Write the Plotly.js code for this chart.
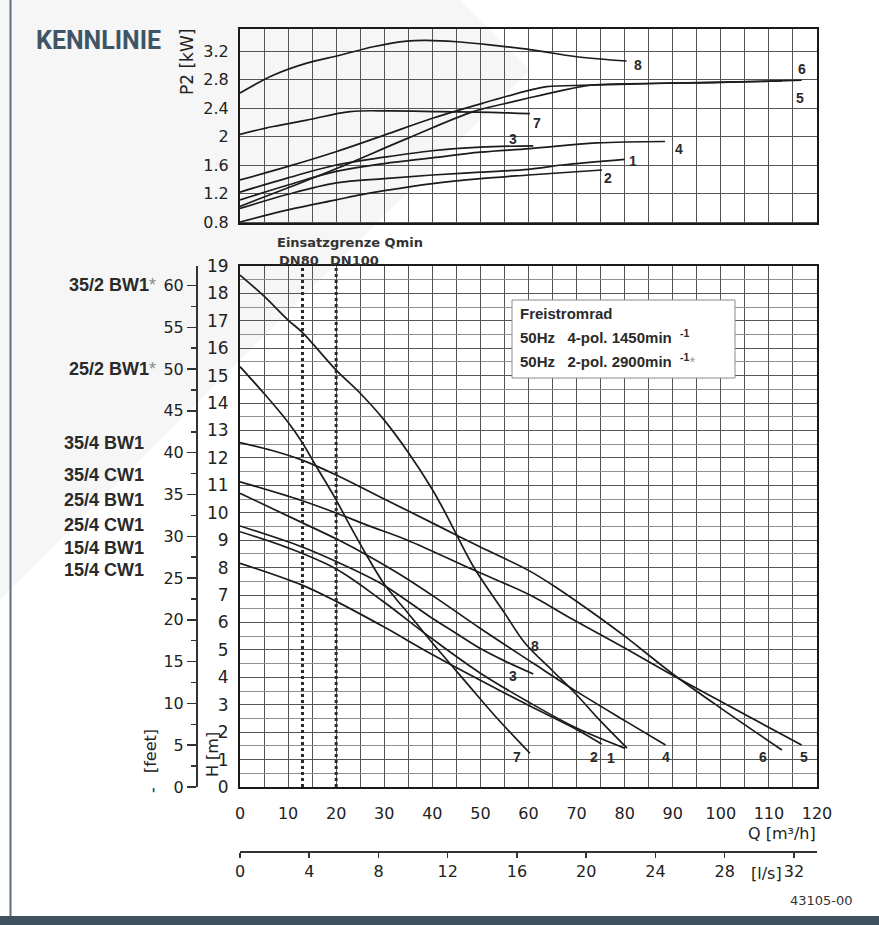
<!DOCTYPE html>
<html>
<head>
<meta charset="utf-8">
<script src="https://cdn.plot.ly/plotly-3.0.1.min.js"></script>
<style>html,body{margin:0;padding:0;background:#fff;}#chart{width:879px;height:925px;}</style>
</head>
<body>
<div id="chart"></div>
<script>
// ---------------- DATA ----------------
// Axis ticks
const qTicks    = [0,10,20,30,40,50,60,70,80,90,100,110,120];      // Q [m3/h]
const lsTicks   = [0,4,8,12,16,20,24,28,32];                        // Q [l/s]
const hTicks    = [0,1,2,3,4,5,6,7,8,9,10,11,12,13,14,15,16,17,18,19]; // H [m]
const feetTicks = [0,5,10,15,20,25,30,35,40,45,50,55,60];           // H [feet]
const p2Ticks   = [0.8,1.2,1.6,2,2.4,2.8,3.2];                      // P2 [kW]

// Pump types (left labels) and curve numbers
const pumpNames = ['35/2 BW1', '25/2 BW1', '35/4 BW1', '35/4 CW1', '25/4 BW1', '25/4 CW1', '15/4 BW1', '15/4 CW1'];
const pumpCurve = ['8', '7', '6', '5', '4', '3', '1', '2'];

// Qmin limits
const qminQ      = [13, 20];
const qminLabels = ['DN80', 'DN100'];

// Head curves H(Q)
const hq1 = [0, 10, 20, 29.5, 40, 50, 60, 70, 80.1];
const hh1 = [9.31, 8.72, 7.95, 6.8, 5.4, 4.15, 3.1, 2.15, 1.41];
const hq2 = [0, 12.8, 20.1, 29.8, 39.5, 48.5, 60.3, 70, 75.2];
const hh2 = [8.16, 7.37, 6.76, 5.85, 4.88, 4.03, 2.95, 2.1, 1.57];
const hq3 = [0, 12.8, 20, 29.8, 39.5, 45, 50, 55, 61];
const hh3 = [9.52, 8.76, 8.22, 7.37, 6.21, 5.6, 5.05, 4.6, 4.12];
const hq4 = [0, 12.8, 20, 27, 33.3, 40.9, 50, 61, 69.3, 80, 88.5];
const hh4 = [10.71, 9.65, 9.05, 8.4, 7.75, 6.88, 5.78, 4.51, 3.56, 2.42, 1.53];
const hq5 = [0, 12.8, 19.9, 26.4, 34.7, 48.5, 60.3, 68.3, 80.1, 89.8, 100.2, 116.8];
const hh5 = [11.13, 10.45, 10.0, 9.55, 9.01, 7.92, 7.0, 6.2, 5.06, 4.09, 3.1, 1.53];
const hq6 = [0, 6.5, 12.8, 20, 30, 40.9, 50, 60, 66, 73, 80, 89.8, 100.2, 112.7];
const hh6 = [12.56, 12.28, 11.93, 11.38, 10.5, 9.55, 8.75, 7.9, 7.25, 6.4, 5.5, 4.15, 2.85, 1.35];
const hq7 = [0, 5, 10, 12.8, 16, 19.9, 22.5, 26, 29.8, 32.5, 35, 39.5, 47.2, 53, 60.3];
const hh7 = [15.33, 14.35, 13.3, 12.6, 11.65, 10.5, 9.65, 8.55, 7.45, 6.85, 6.33, 5.36, 3.78, 2.6, 1.23];
const hq8 = [0, 5, 10, 13, 20, 25, 30, 35, 40, 43, 48.5, 55, 59.3, 65, 69.7, 75, 80.5];
const hh8 = [18.67, 17.9, 17.03, 16.57, 15.2, 14.36, 13.38, 12.2, 10.85, 9.9, 8.05, 6.35, 5.24, 4.24, 3.42, 2.4, 1.42];

// Power curves P2(Q)
const pq1 = [0, 10, 20, 30, 40, 50, 60, 67, 80];
const pp1 = [0.99, 1.19, 1.35, 1.41, 1.46, 1.50, 1.54, 1.60, 1.68];
const pq2 = [0, 10, 20, 25, 30, 40, 50, 60, 75.3];
const pp2 = [0.80, 0.97, 1.11, 1.18, 1.24, 1.34, 1.41, 1.46, 1.53];
const pq3 = [0, 10, 20, 30, 40, 50, 61];
const pp3 = [1.22, 1.42, 1.60, 1.71, 1.80, 1.85, 1.87];
const pq4 = [0, 10, 20, 30, 40, 50, 60.3, 74.2, 88.4];
const pp4 = [1.11, 1.32, 1.51, 1.62, 1.70, 1.78, 1.83, 1.91, 1.93];
const pq5 = [0, 10, 20.1, 34.7, 48.5, 55, 60, 65.9, 72.8, 80, 100, 116.8];
const pp5 = [1.02, 1.28, 1.55, 1.97, 2.35, 2.46, 2.54, 2.63, 2.72, 2.74, 2.76, 2.79];
const pq6 = [0, 10, 20.1, 30, 40.2, 50.6, 60.3, 63.8, 72.8, 90, 112.7];
const pp6 = [1.39, 1.58, 1.79, 2.02, 2.26, 2.47, 2.65, 2.70, 2.72, 2.75, 2.78];
const pq7 = [0, 6.9, 13.9, 22.9, 31.2, 41.6, 52, 60.3];
const pp7 = [2.03, 2.14, 2.23, 2.35, 2.36, 2.35, 2.34, 2.32];
const pq8 = [0, 6.9, 13.9, 20.8, 27.7, 34.7, 38.8, 45.1, 52.7, 60.3, 70, 80.4];
const pp8 = [2.61, 2.86, 3.03, 3.14, 3.26, 3.34, 3.35, 3.33, 3.28, 3.22, 3.12, 3.06];

// ---------------- HELPERS ----------------
const W = 879, H = 925;
const PX = x => x / W;
const PY = y => 1 - y / H;
const DV = 'DejaVu Sans, sans-serif';
const AR = 'Liberation Sans, Arial, sans-serif';
const INK = '#222';

const headCurves = [
  {id:'1', q:hq1, h:hh1, at:-1, dx:-14, dy:-10},
  {id:'2', q:hq2, h:hh2, at:-1, dx:-8,  dy:-13},
  {id:'3', q:hq3, h:hh3, at:-1, dx:-20, dy:-2},
  {id:'4', q:hq4, h:hh4, at:-1, dx:0,   dy:-12},
  {id:'5', q:hq5, h:hh5, at:-1, dx:2,   dy:-12},
  {id:'6', q:hq6, h:hh6, at:-1, dx:-19, dy:-7},
  {id:'7', q:hq7, h:hh7, at:-1, dx:-13, dy:-4},
  {id:'8', q:hq8, h:hh8, at:12, dx:10,  dy:-3}
];
const powerCurves = [
  {id:'1', q:pq1, p:pp1, dx:8,   dy:-2},
  {id:'2', q:pq2, p:pp2, dx:6,   dy:-8},
  {id:'3', q:pq3, p:pp3, dx:-20, dy:7},
  {id:'4', q:pq4, p:pp4, dx:14,  dy:-7},
  {id:'5', q:pq5, p:pp5, dx:-2,  dy:-18},
  {id:'6', q:pq6, p:pp6, dx:20,  dy:12},
  {id:'7', q:pq7, p:pp7, dx:7,   dy:-9},
  {id:'8', q:pq8, p:pp8, dx:11,  dy:-4}
];

const lineStyle = {color:'#1c1c1c', width:1.7, shape:'spline', smoothing:1.0};
const traces = [];
headCurves.forEach(c => traces.push({x:c.q, y:c.h, xaxis:'x', yaxis:'y', mode:'lines', line:lineStyle, hoverinfo:'skip', showlegend:false}));
powerCurves.forEach(c => traces.push({x:c.q, y:c.p, xaxis:'x2', yaxis:'y2', mode:'lines', line:lineStyle, hoverinfo:'skip', showlegend:false}));
// carriers for the secondary axes (l/s and feet)
traces.push({x:[lsTicks[0]], y:[hTicks[0]], xaxis:'x3', yaxis:'y', mode:'markers', marker:{opacity:0}, hoverinfo:'skip', showlegend:false});
traces.push({x:[qTicks[0]], y:[feetTicks[0]], xaxis:'x', yaxis:'y3', mode:'markers', marker:{opacity:0}, hoverinfo:'skip', showlegend:false});

const lsPerM3h = 1/3.6, feetPerM = 1/0.3048;
const qMax = qTicks[qTicks.length-1];
const hMax = hTicks[hTicks.length-1];

const frame = {showline:true, mirror:true, linecolor:'#1a1a1a', linewidth:2, zeroline:false, fixedrange:true};
const gridX = {showgrid:true, gridcolor:'#555', gridwidth:1,
  minor:{dtick:(qTicks[1]-qTicks[0])/2, showgrid:true, gridcolor:'#555', gridwidth:1}};

const layout = {
  width:W, height:H, margin:{l:0, r:0, t:0, b:0},
  paper_bgcolor:'#ffffff', plot_bgcolor:'rgba(0,0,0,0)', showlegend:false,
  xaxis: Object.assign({domain:[PX(240), PX(817)], range:[qTicks[0], qMax], anchor:'y',
    tick0:qTicks[0], dtick:qTicks[1]-qTicks[0], ticks:'', ticklabelstandoff:11,
    tickfont:{family:DV, size:16, color:INK}}, gridX, frame),
  yaxis: Object.assign({domain:[PY(787), PY(266)], range:[hTicks[0], hMax], anchor:'x',
    tick0:hTicks[0], dtick:hTicks[1]-hTicks[0], ticks:'', ticklabelstandoff:6,
    tickfont:{family:DV, size:17, color:INK},
    showgrid:true, gridcolor:'#555', gridwidth:1,
    minor:{dtick:(hTicks[1]-hTicks[0])/2, showgrid:true, gridcolor:'#909090', gridwidth:1}}, frame),
  xaxis2: Object.assign({domain:[PX(240), PX(817)], range:[qTicks[0], qMax], anchor:'y2',
    tick0:qTicks[0], dtick:qTicks[1]-qTicks[0], ticks:'', showticklabels:false}, gridX, frame),
  yaxis2: Object.assign({domain:[PY(223.3), PY(29)], range:[0.782, 3.509], anchor:'x2',
    tick0:p2Ticks[0], dtick:p2Ticks[1]-p2Ticks[0], ticks:'', ticklabelstandoff:6,
    tickfont:{family:DV, size:16, color:INK},
    showgrid:true, gridcolor:'#555', gridwidth:1}, frame),
  xaxis3: {overlaying:'x', anchor:'free', position:PY(852), side:'bottom',
    range:[0, qMax*lsPerM3h], tick0:lsTicks[0], dtick:lsTicks[1]-lsTicks[0],
    ticks:'outside', ticklen:5, tickwidth:1.5, tickcolor:'#333',
    showline:true, linecolor:'#333', linewidth:2, showgrid:false, zeroline:false, fixedrange:true,
    tickfont:{family:DV, size:16, color:INK}},
  yaxis3: {overlaying:'y', anchor:'free', position:PX(196), side:'left',
    range:[0, hMax*feetPerM], tick0:feetTicks[0], dtick:feetTicks[1]-feetTicks[0],
    ticks:'outside', ticklen:9, tickwidth:1.5, tickcolor:'#333',
    minor:{dtick:(feetTicks[1]-feetTicks[0])/2, ticks:'outside', ticklen:5, tickwidth:1.5, tickcolor:'#333'},
    showline:true, linecolor:'#333', linewidth:1.5, showgrid:false, zeroline:false, fixedrange:true,
    tickfont:{family:DV, size:16, color:INK}},
  shapes: [],
  annotations: []
};

// background decorations
const wm = [[0,0],[460,0],[530,70],[0,600]];
layout.shapes.push({type:'path', xref:'paper', yref:'paper', layer:'below',
  path:'M ' + wm.map(p => PX(p[0]) + ',' + PY(p[1])).join(' L ') + ' Z',
  fillcolor:'#f6f6f6', line:{width:0}});
layout.shapes.push({type:'line', xref:'paper', yref:'paper', layer:'below',
  x0:PX(10.5), x1:PX(10.5), y0:PY(0), y1:PY(916), line:{color:'#5d6f7e', width:2}});
layout.shapes.push({type:'rect', xref:'paper', yref:'paper', layer:'below',
  x0:0, x1:1, y0:PY(925), y1:PY(916), fillcolor:'#3e5262', line:{width:0}});

// Qmin dotted limits
qminQ.forEach(q => layout.shapes.push({type:'line', xref:'x', yref:'y', x0:q, x1:q, y0:hTicks[0], y1:hMax,
  line:{color:'#2a2a2a', width:3, dash:'3px,3px'}}));

// legend box
layout.shapes.push({type:'rect', xref:'paper', yref:'paper', layer:'above',
  x0:PX(512), x1:PX(735), y0:PY(378), y1:PY(300), fillcolor:'#ffffff', line:{color:'#8c8c8c', width:1}});

function ann(text, x, y, opts) {
  layout.annotations.push(Object.assign({text:text, xref:'paper', yref:'paper', x:PX(x), y:PY(y),
    showarrow:false, xanchor:'center', yanchor:'middle', font:{family:DV, size:16, color:INK}}, opts || {}));
}

ann('<b>KENNLINIE</b>', 34, 40, {xanchor:'left', font:{family:'Roboto, sans-serif', size:25, color:'#3e5566'}});
ann('P2 [kW]', 187, 62, {textangle:-90, font:{family:DV, size:17, color:INK}});
ann('<b>Einsatzgrenze Qmin</b>', 350, 242, {font:{family:DV, size:13, color:'#333'}});
ann('<b>' + qminLabels[0] + '</b>', 299, 260, {font:{family:DV, size:13, color:'#333'}});
ann('<b>' + qminLabels[1] + '</b>', 354, 260, {font:{family:DV, size:13, color:'#333'}});

// pump type labels
const star = "<span style='color:#8a8a8a'>*</span>";
ann('<b>' + pumpNames[0] + '</b>' + star, 158, 285, {xanchor:'right', font:{family:AR, size:18, color:'#2a2a2a'}});
ann('<b>' + pumpNames[1] + '</b>' + star, 158, 369, {xanchor:'right', font:{family:AR, size:18, color:'#2a2a2a'}});
const leftY = [443, 475, 500, 525, 548, 570];
pumpNames.slice(2).forEach((n, i) => ann('<b>' + n + '</b>', 62, leftY[i], {xanchor:'left', font:{family:AR, size:18, color:'#2a2a2a'}}));

ann('[feet]', 150, 751, {textangle:-90, font:{family:DV, size:16, color:INK}});
ann('-', 152, 790, {textangle:-90, font:{family:DV, size:16, color:INK}});
ann('H [m]', 212, 755, {textangle:-90, font:{family:DV, size:16, color:INK}});
ann('Q [m³/h]', 818, 833, {xanchor:'right', font:{family:DV, size:16, color:INK}});
ann('[l/s]', 766, 873, {font:{family:DV, size:16, color:INK}});
ann('43105-00', 855, 900, {xanchor:'right', font:{family:DV, size:13, color:'#333'}});

// legend texts
const LF = {family:AR, size:15, color:'#2a2a2a'};
const sp = '\u00a0';
ann('<b>Freistromrad</b>', 518, 313, {xanchor:'left', font:LF});
ann('<b>50Hz' + sp+sp+sp + '4-pol. 1450min' + sp+sp + '<sup>-1</sup></b>', 518, 336, {xanchor:'left', font:LF});
ann('<b>50Hz' + sp+sp+sp + '2-pol. 2900min' + sp+sp + '<sup>-1</sup></b>' + "<span style='color:#999'>*</span>", 518, 360, {xanchor:'left', font:LF});

// curve number labels
const NF = {family:AR, size:14, color:'#2a2a2a'};
headCurves.forEach(c => {
  const i = c.at < 0 ? c.q.length - 1 : c.at;
  layout.annotations.push({text:'<b>' + c.id + '</b>', xref:'x', yref:'y', x:c.q[i], y:c.h[i],
    xshift:c.dx, yshift:c.dy, showarrow:false, font:NF});
});
powerCurves.forEach(c => {
  const i = c.q.length - 1;
  layout.annotations.push({text:'<b>' + c.id + '</b>', xref:'x2', yref:'y2', x:c.q[i], y:c.p[i],
    xshift:c.dx, yshift:c.dy, showarrow:false, font:NF});
});

Plotly.newPlot('chart', traces, layout, {staticPlot:true, displayModeBar:false});
</script>
</body>
</html>
